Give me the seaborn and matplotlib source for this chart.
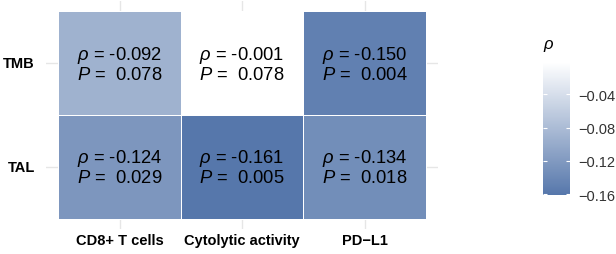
import matplotlib
matplotlib.use("Agg")
import matplotlib.pyplot as plt
import numpy as np
import pandas as pd
import seaborn as sns
from matplotlib.colors import LinearSegmentedColormap

rows = ["TMB", "TAL"]
cols = ["CD8+ T cells", "Cytolytic activity", "PD\u2212L1"]
rho_tmb = [-0.092, -0.001, -0.150]
rho_tal = [-0.124, -0.161, -0.134]
p_tmb = [0.078, 0.078, 0.004]
p_tal = [0.029, 0.005, 0.018]
cbar_ticks = [-0.04, -0.08, -0.12, -0.16]

plt.rcParams['font.family'] = ['Liberation Sans', 'DejaVu Sans']
plt.rcParams['mathtext.fontset'] = 'custom'
plt.rcParams['mathtext.it'] = 'Liberation Sans:italic'
plt.rcParams['mathtext.rm'] = 'Liberation Sans'


def main():
    rho = pd.DataFrame([rho_tmb, rho_tal], index=rows, columns=cols)
    pval = pd.DataFrame([p_tmb, p_tal], index=rows, columns=cols)
    labels = np.array([[f"$\\rho$ = {r:.3f}\n$P$ =  {p:.3f}"
                        for r, p in zip(rho.loc[k], pval.loc[k])] for k in rows])

    cmap = LinearSegmentedColormap.from_list("blu", ["#5677AB", "#FFFFFF"])

    fig = plt.figure(figsize=(6.16, 2.55), dpi=100)
    ax = fig.add_axes([46 / 616, 1 - 230 / 255, 392 / 616, 228 / 255])
    cax = fig.add_axes([543 / 616, 1 - 196 / 255, 27 / 616, 133 / 255])

    ax.set_axisbelow(True)
    sns.heatmap(rho, ax=ax, cbar_ax=cax, cmap=cmap, vmin=rho.values.min(),
                vmax=rho.values.max(), annot=labels, fmt="",
                annot_kws={"fontsize": 13.2, "color": "black", "linespacing": 1.1},
                linewidths=0.6, linecolor="white")
    ax.set_xlim(-0.1, 3.1)
    ax.set_ylim(2.1, -0.1)
    ax.grid(True, color="#E6E6E6", lw=1.0)
    for s in ax.spines.values():
        s.set_visible(False)
    ax.tick_params(axis="y", length=0, pad=8)
    ax.tick_params(axis="x", length=0, pad=3)
    ax.set_xticklabels(cols, fontsize=10.5, fontweight="bold", rotation=0)
    ax.set_yticklabels(rows, fontsize=10.5, fontweight="bold", rotation=0)
    ax.set_xlabel("")
    ax.set_ylabel("")

    cax.set_yticks(cbar_ticks)
    cax.set_yticklabels([f"{t:.2f}".replace("-", "\u2212") for t in cbar_ticks],
                        fontsize=10.5, color="#333333")
    cax.yaxis.set_ticks_position("both")
    cax.tick_params(axis="y", direction="in", color="white", length=3, width=0.8,
                    labelleft=False, labelright=True, pad=6)
    for s in cax.spines.values():
        s.set_visible(False)
    cax.set_title("$\\rho$", fontsize=12, loc="left", pad=10)

    fig.savefig("out.png", dpi=100)


if __name__ == "__main__":
    main()
